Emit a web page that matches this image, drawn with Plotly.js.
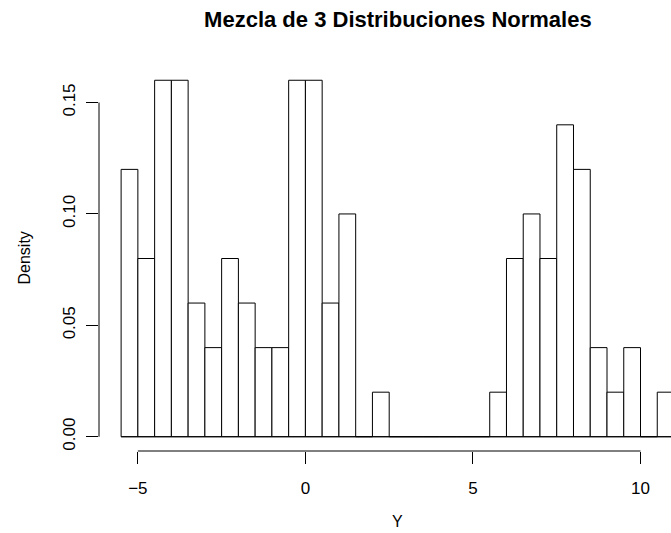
<!DOCTYPE html>
<html>
<head>
<meta charset="utf-8">
<script src="https://cdn.plot.ly/plotly-3.0.1.min.js"></script>
<style>html,body{margin:0;padding:0;background:#fff;}</style>
</head>
<body>
<div id="chart" style="width:671px;height:533px;"></div>
<script>
// Histogram bins (left edges), width 0.5
const binStart = -5.5;
const binWidth = 0.5;
const densities = [0.12, 0.08, 0.16, 0.16, 0.06, 0.04, 0.08, 0.06, 0.04, 0.04,
                   0.16, 0.16, 0.06, 0.10, 0.00, 0.02, 0.00, 0.00, 0.00, 0.00,
                   0.00, 0.00, 0.02, 0.08, 0.10, 0.08, 0.14, 0.12, 0.04, 0.02,
                   0.04, 0.00, 0.02];
const xTicks = [-5, 0, 5, 10];
const xTickLabels = ['\u22125', '0', '5', '10'];
const yTicks = [0.00, 0.05, 0.10, 0.15];
const yTickLabels = ['0.00', '0.05', '0.10', '0.15'];
const titleText = 'Mezcla de 3 Distribuciones Normales';
const xTitle = 'Y';
const yTitle = 'Density';

const centers = densities.map((_, i) => binStart + binWidth * (i + 0.5));
const binEnd = binStart + binWidth * densities.length;

const FONT = 'Liberation Sans, Arial, Helvetica, sans-serif';

const traces = [
  {
    type: 'bar',
    x: centers,
    y: densities,
    width: binWidth,
    marker: {color: '#ffffff', line: {color: '#000000', width: 1}},
    hoverinfo: 'skip',
    showlegend: false
  },
  {
    type: 'scatter',
    mode: 'lines',
    x: [binStart, binEnd],
    y: [0, 0],
    line: {color: '#000000', width: 1},
    hoverinfo: 'skip',
    showlegend: false,
    cliponaxis: true
  }
];

const layout = {
  width: 671,
  height: 533,
  margin: {l: 99, r: 0, t: 66, b: 82, pad: 0},
  paper_bgcolor: '#ffffff',
  plot_bgcolor: '#ffffff',
  font: {family: FONT, size: 17, color: '#000000'},
  bargap: 0,
  showlegend: false,
  title: {
    text: '<b>' + titleText + '</b>',
    font: {family: FONT, size: 22, color: '#000000'},
    xref: 'container', yref: 'container',
    x: 397.9 / 671, y: 1 - 19 / 533,
    xanchor: 'center', yanchor: 'middle'
  },
  xaxis: {
    range: [-6.16, 10.91],
    showgrid: false, zeroline: false, showline: false,
    tickmode: 'array', tickvals: xTicks, ticktext: xTickLabels,
    ticks: 'outside', ticklen: 12, tickwidth: 1, tickcolor: '#000000',
    ticklabelstandoff: 10,
    tickfont: {family: FONT, size: 17, color: '#000000'},
    fixedrange: true
  },
  yaxis: {
    range: [-0.0064, 0.1664],
    showgrid: false, zeroline: false, showline: false,
    tickmode: 'array', tickvals: yTicks, ticktext: yTickLabels,
    ticks: 'outside', ticklen: 12, tickwidth: 1, tickcolor: '#000000',
    tickangle: -90,
    ticklabelstandoff: 4,
    tickfont: {family: FONT, size: 17, color: '#000000'},
    fixedrange: true
  },
  shapes: [
    {type: 'line', xref: 'x', yref: 'paper',
     x0: xTicks[0], x1: xTicks[xTicks.length - 1], y0: 0, y1: 0,
     line: {color: '#000000', width: 1}},
    {type: 'line', xref: 'paper', yref: 'y',
     x0: 0, x1: 0, y0: yTicks[0], y1: yTicks[yTicks.length - 1],
     line: {color: '#000000', width: 1}}
  ],
  annotations: [
    {text: xTitle, xref: 'paper', yref: 'paper', x: (397.9 - 99) / 572, y: 0,
     xanchor: 'center', yanchor: 'middle', yshift: -(521 - 451), showarrow: false,
     font: {family: FONT, size: 16, color: '#000000'}},
    {text: yTitle, xref: 'paper', yref: 'paper', x: 0, y: 0.5,
     xanchor: 'center', yanchor: 'middle', xshift: -(99 - 24), textangle: -90, showarrow: false,
     font: {family: FONT, size: 16, color: '#000000'}}
  ]
};

Plotly.newPlot('chart', traces, layout, {displayModeBar: false, staticPlot: true});
</script>
</body>
</html>
